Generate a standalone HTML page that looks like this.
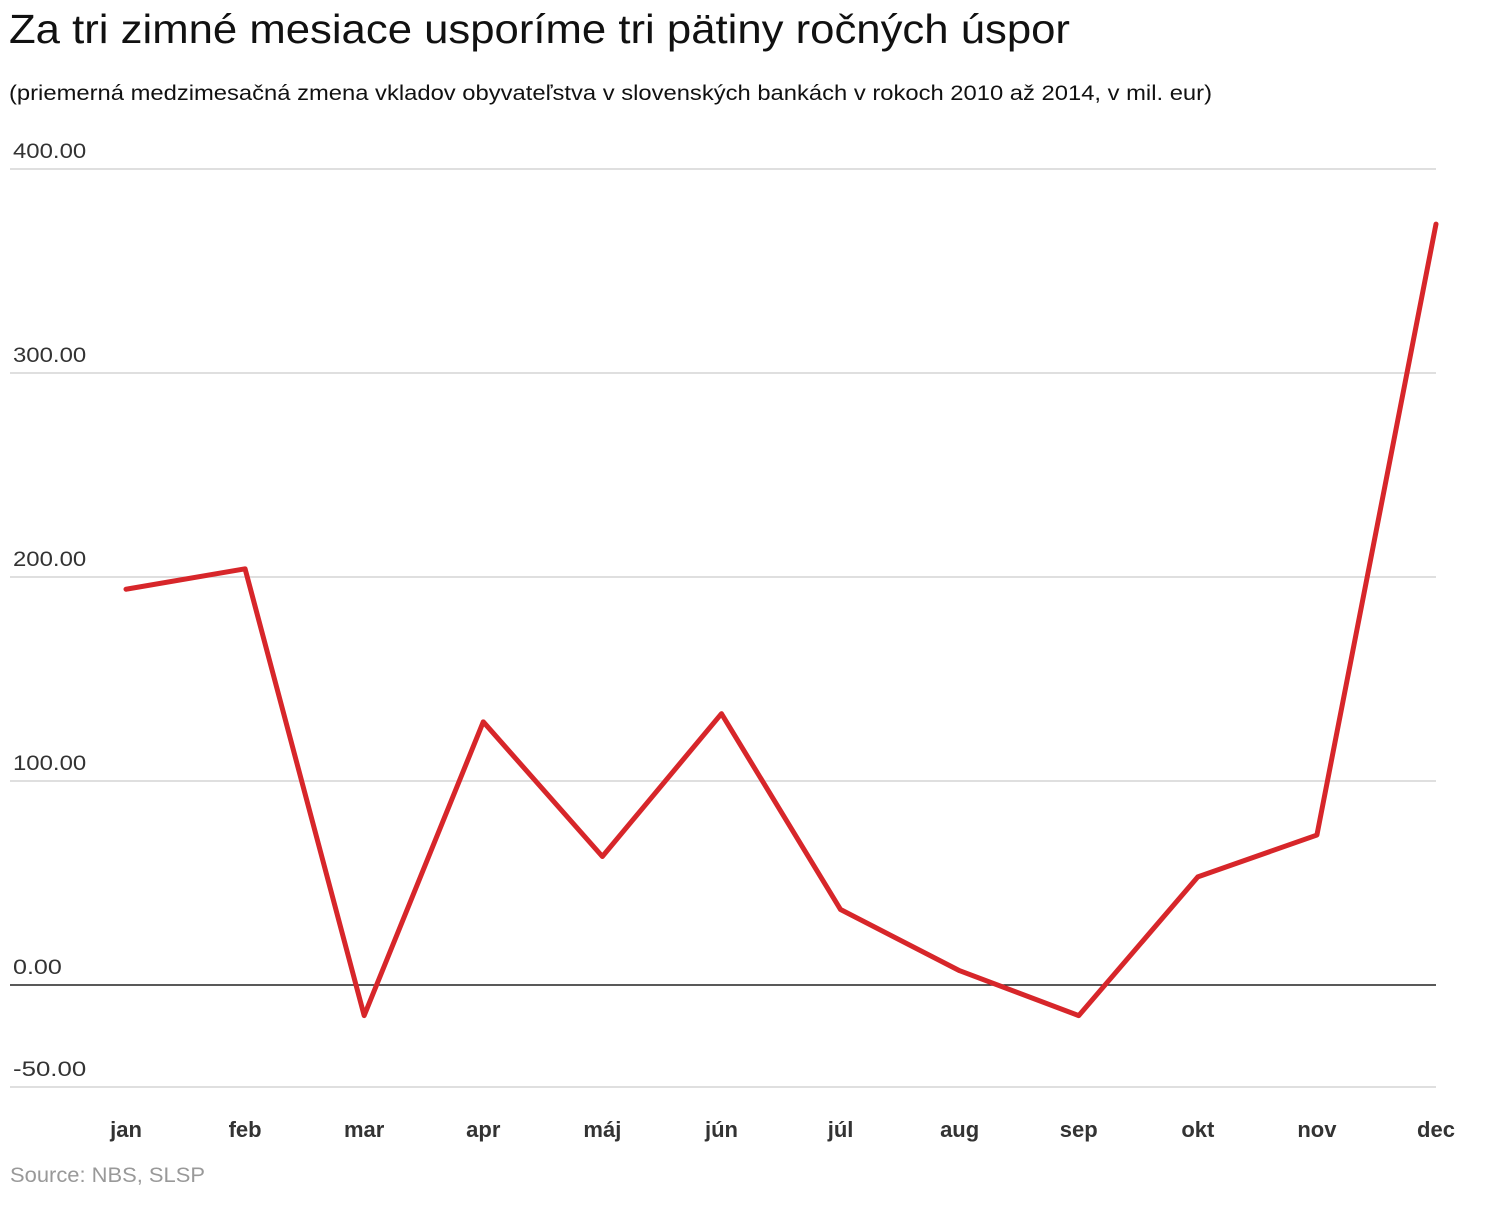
<!DOCTYPE html>
<html><head><meta charset="utf-8"><style>
body{margin:0;background:#fff;width:1496px;height:1200px;overflow:hidden;font-family:"Liberation Sans",sans-serif}
</style></head><body>
<svg width="1496" height="1200" xmlns="http://www.w3.org/2000/svg" font-family="Liberation Sans, sans-serif">
<text x="9" y="43" font-size="41" fill="#111" textLength="1061" lengthAdjust="spacingAndGlyphs">Za tri zimné mesiace usporíme tri pätiny ročných úspor</text>
<text x="9" y="100" font-size="21" fill="#111" textLength="1203" lengthAdjust="spacingAndGlyphs">(priemerná medzimesačná zmena vkladov obyvateľstva v slovenských bankách v rokoch 2010 až 2014, v mil. eur)</text>
<g id="grid"></g>
<g id="xlabels"></g>
<path id="line" fill="none" stroke="#d7262a" stroke-width="5" stroke-linejoin="round" stroke-linecap="round"/>
<text x="10" y="1182" font-size="21" fill="#999" textLength="195" lengthAdjust="spacingAndGlyphs">Source: NBS, SLSP</text>
</svg>
<script>
const months=["jan","feb","mar","apr","máj","jún","júl","aug","sep","okt","nov","dec"];
const values=[194,204,-15,129,63,133,37,7,-15,53,73.5,373];
const yTicks=[400,300,200,100,0,-50];
const yTickLabels=["400.00","300.00","200.00","100.00","0.00","-50.00"];
const NS="http://www.w3.org/2000/svg";
function y(v){return 985-v*2.04;}
function x(i){return 126+i*(1436-126)/11;}
const grid=document.getElementById('grid');
yTicks.forEach((t,i)=>{
  const l=document.createElementNS(NS,'line');
  
  
  l.setAttribute('x1',10);l.setAttribute('x2',1436);
  l.setAttribute('y1',y(t));l.setAttribute('y2',y(t));
  l.setAttribute('stroke',t===0?'#222':'#ccc');l.setAttribute('stroke-width',t===0?1.5:1.2);
  grid.appendChild(l);
  const tx=document.createElementNS(NS,'text');
  
  
  tx.setAttribute('x',13);tx.setAttribute('y',y(t)-11);
  tx.setAttribute('font-size','21');tx.setAttribute('fill','#333');
  tx.setAttribute('textLength',String(yTickLabels[i].length*12.2));
  tx.setAttribute('lengthAdjust','spacingAndGlyphs');
  tx.textContent=yTickLabels[i];
  grid.appendChild(tx);
});
const xl=document.getElementById('xlabels');
months.forEach((m,i)=>{
  const tx=document.createElementNS(NS,'text');
  
  
  tx.setAttribute('x',x(i));tx.setAttribute('y',1137);
  tx.setAttribute('text-anchor','middle');tx.setAttribute('font-size','22');
  tx.setAttribute('font-weight','bold');tx.setAttribute('fill','#333');
  tx.textContent=m;
  xl.appendChild(tx);
});
document.getElementById('line').setAttribute('d',values.map((v,i)=>(i?'L':'M')+x(i)+' '+y(v)).join(' '));
</script>
</body></html>
